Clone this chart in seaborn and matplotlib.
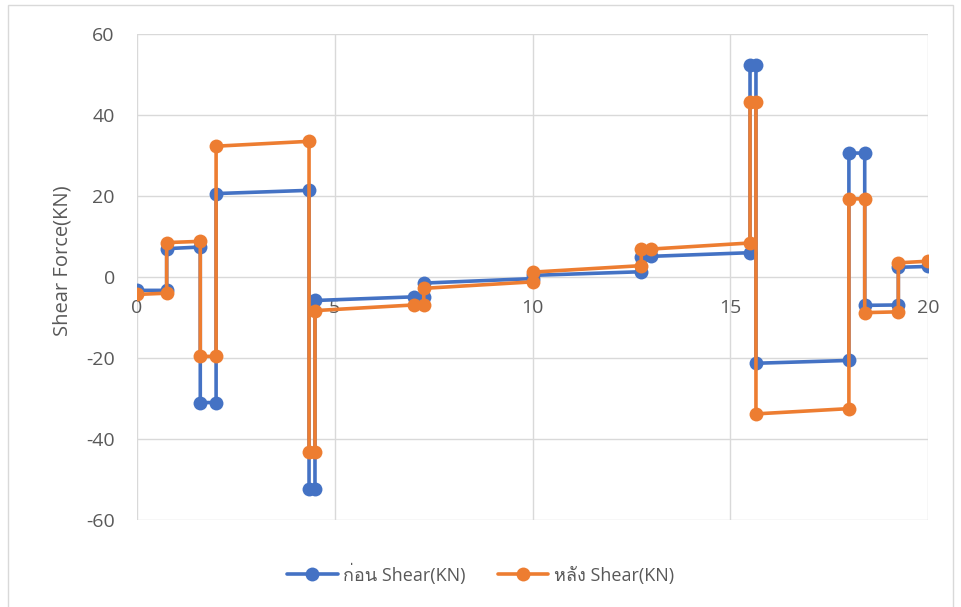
import pandas as pd
import matplotlib
matplotlib.use('Agg')
import matplotlib.pyplot as plt
import seaborn as sns
from matplotlib import font_manager as fm
from matplotlib.ft2font import FT2Font
from matplotlib.patches import Rectangle

# positions along the beam (m) - same for both series
x_before = [0, 0.75, 0.75, 1.6, 1.6, 2.0, 2.0, 4.35, 4.35, 4.5, 4.5, 7.0, 7.25, 7.25,
            10, 10, 12.75, 12.75, 13.0, 15.5, 15.5, 15.65, 15.65, 18.0, 18.0, 18.4,
            18.4, 19.25, 19.25, 20]
v_before = [-3.3, -3.3, 7.0, 7.4, -31.0, -31.0, 20.6, 21.4, -52.3, -52.3, -5.8, -4.9, -4.9, -1.5,
            -0.4, 0.4, 1.3, 5.0, 5.1, 6.0, 52.3, 52.3, -21.3, -20.6, 30.6, 30.6,
            -7.0, -6.9, 2.4, 2.6]
x_after = x_before
v_after = [-4.3, -4.0, 8.5, 8.8, -19.6, -19.6, 32.3, 33.5, -43.3, -43.3, -8.3, -6.9, -6.9, -2.8,
           -1.2, 1.2, 2.8, 6.9, 6.9, 8.4, 43.3, 43.3, -33.8, -32.5, 19.3, 19.3,
           -8.8, -8.6, 3.5, 3.9]
labels = ['ก่อน Shear(KN)', 'หลัง Shear(KN)']
xticks = [0, 5, 10, 15, 20]
yticks = [-60, -40, -20, 0, 20, 40, 60]

# find an installed font that has Thai glyphs
thai_family = None
for f in fm.fontManager.ttflist:
    try:
        if 0x0E01 in FT2Font(f.fname).get_charmap():
            thai_family = f.name
            break
    except Exception:
        pass

df = pd.concat([
    pd.DataFrame({'x': x_before, 'v': v_before, 's': labels[0]}),
    pd.DataFrame({'x': x_after, 'v': v_after, 's': labels[1]}),
])

sns.set_style('white')
plt.rcParams['font.family'] = ['Open Sans', 'DejaVu Sans']
plt.rcParams['axes.unicode_minus'] = False
grey = '#595959'

fig = plt.figure(figsize=(9.61, 6.07), dpi=100)
ax = fig.add_axes([137/961, 1-520/607, (928-137)/961, (520-34)/607])
fig.patches.append(Rectangle((8/961, -0.1), 945/961, 1.092, transform=fig.transFigure,
                             fill=False, edgecolor='#d9d9d9', linewidth=1))

sns.lineplot(data=df, x='x', y='v', hue='s', sort=False, estimator=None,
             palette=['#4472C4', '#ED7D31'], marker='o', markersize=10, markeredgewidth=0,
             linewidth=2.6, ax=ax)

ax.set_xlim(0, 20)
ax.set_ylim(-60, 60)
ax.set_xticks(xticks)
ax.set_yticks(yticks)
ax.grid(True, color='#d9d9d9', linewidth=1)
ax.set_axisbelow(True)
for sp in ['top', 'right', 'left']:
    ax.spines[sp].set_visible(False)
ax.spines['bottom'].set_position(('data', 0))
ax.spines['bottom'].set_color('none')
ax.tick_params(axis='both', length=0, labelsize=14, labelcolor=grey)
ax.tick_params(axis='x', pad=16)
ax.tick_params(axis='y', pad=16)
ax.set_xlabel('')
ax.set_ylabel('Shear Force(KN)', fontsize=14.5, color=grey)
ax.yaxis.set_label_coords(-0.082, 0.533)

handles, labs = ax.get_legend_handles_labels()
ax.get_legend().remove()
fams = ['Open Sans'] + ([thai_family] if thai_family else []) + ['DejaVu Sans']
leg = fig.legend(handles, labs, loc='center', bbox_to_anchor=(0.5, 1-574/607), ncol=2,
                 frameon=False, handlelength=2.8, columnspacing=1.8, handletextpad=0.3,
                 prop={'family': fams, 'size': 13})
for t in leg.get_texts():
    t.set_color(grey)

fig.savefig('out.png', dpi=100)
